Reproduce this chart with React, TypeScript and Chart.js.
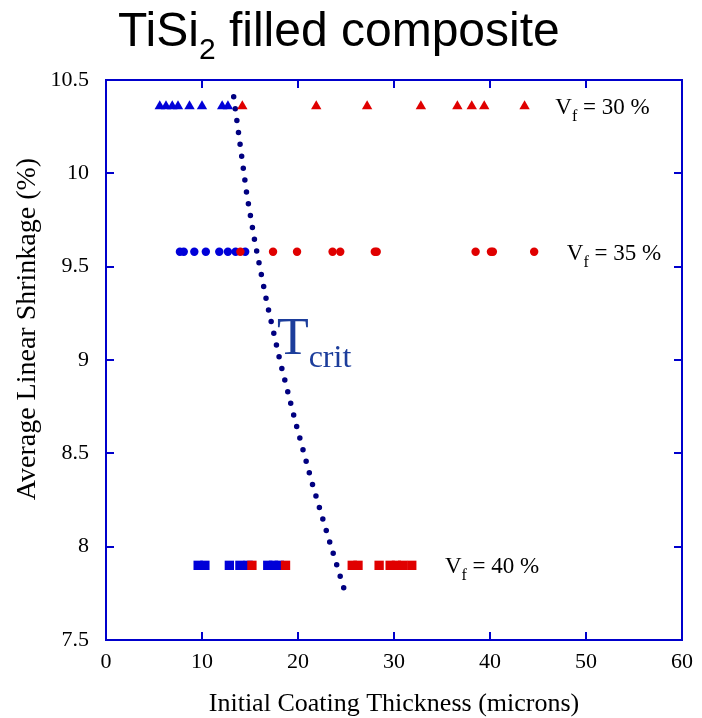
import React, { useEffect, useRef } from 'react';
import { Chart, registerables } from 'chart.js';

Chart.register(...registerables);

// ---- text ----
const titleMain = 'TiSi';
const titleSub = '2';
const titleRest = ' filled composite';
const xAxisTitle = 'Initial Coating Thickness (microns)';
const yAxisTitle = 'Average Linear Shrinkage (%)';
const critMain = 'T';
const critSub = 'crit';

// ---- ticks ----
const xTicks = [0, 10, 20, 30, 40, 50, 60];
const yTicks = [7.5, 8, 8.5, 9, 9.5, 10, 10.5];

// ---- data ----
const vf30Y = 10.36;
const vf35Y = 9.58;
const vf40Y = 7.9;
const vf30Blue = [5.6, 6.25, 6.9, 7.5, 8.7, 10.0, 12.1, 12.7];
const vf30Red = [14.2, 21.9, 27.2, 32.8, 36.6, 38.1, 39.4, 43.6];
const vf35Blue = [7.7, 8.1, 9.2, 10.4, 11.8, 12.7, 13.5, 14.5];
const vf35Red = [14.0, 17.4, 19.9, 23.6, 24.4, 28.0, 28.2, 38.5, 40.1, 40.3, 44.6];
const vf40Blue = [9.6, 10.3, 12.85, 13.95, 14.8, 16.85, 17.45, 18.05];
const vf40Red = [15.2, 18.7, 25.65, 26.25, 28.45, 29.6, 30.25, 30.9, 31.85];
const tcritX = [13.3, 14.67, 15.53, 16.77, 18.18, 19.76, 21.44, 23.27, 24.77];
const tcritY = [10.41, 9.886, 9.626, 9.305, 8.983, 8.663, 8.346, 8.031, 7.778];
const vfLabelText = ['30 %', '35 %', '40 %'];
const vfLabelRow = [vf30Y, vf35Y, vf40Y];

// ---- annotation placement (data units) ----
const vfLabelAt = [46.8, 48.0, 35.3];
const critLabelAt = { x: 17.8, y: 9.03 };

const SERIF = "'Liberation Serif', 'Times New Roman', serif";
const SANS = "'Liberation Sans', Arial, sans-serif";
const BLUE = '#0000d8';
const RED = '#e00000';
const NAVY = '#000080';
const FRAME = '#0000cc';
const CRIT = '#1c3d9b';

const row = (xs: number[], y: number) => xs.map((x) => ({ x, y }));

type Part = { text: string; font: string; dy: number };
function drawParts(ctx: CanvasRenderingContext2D, x: number, y: number, parts: Part[]) {
  let cx = x;
  for (const p of parts) {
    ctx.font = p.font;
    ctx.fillText(p.text, cx, y + p.dy);
    cx += ctx.measureText(p.text).width;
  }
}

const decor = {
  id: 'decor',
  beforeDatasetsDraw(chart: any) {
    const { ctx, chartArea: a, scales } = chart;
    ctx.save();
    ctx.strokeStyle = FRAME;
    ctx.lineWidth = 2;
    ctx.strokeRect(a.left, a.top, a.right - a.left, a.bottom - a.top);
    ctx.beginPath();
    const tl = 8;
    xTicks.slice(1, -1).forEach((v) => {
      const px = Math.round(scales.x.getPixelForValue(v));
      ctx.moveTo(px, a.bottom);
      ctx.lineTo(px, a.bottom - tl);
      ctx.moveTo(px, a.top);
      ctx.lineTo(px, a.top + tl);
    });
    yTicks.slice(1, -1).forEach((v) => {
      const py = Math.round(scales.y.getPixelForValue(v));
      ctx.moveTo(a.left, py);
      ctx.lineTo(a.left + tl, py);
      ctx.moveTo(a.right, py);
      ctx.lineTo(a.right - tl, py);
    });
    ctx.stroke();
    ctx.restore();
  },
  afterDraw(chart: any) {
    const { ctx, scales } = chart;
    ctx.save();
    ctx.textBaseline = 'alphabetic';
    ctx.textAlign = 'left';
    // chart title
    ctx.fillStyle = '#000';
    drawParts(ctx, 118, 46, [
      { text: titleMain, font: `48px ${SANS}`, dy: 0 },
      { text: titleSub, font: `30px ${SANS}`, dy: 13 },
      { text: titleRest, font: `48px ${SANS}`, dy: 0 },
    ]);
    // y axis title
    ctx.save();
    ctx.translate(28, 329);
    ctx.rotate(-Math.PI / 2);
    ctx.font = `28px ${SERIF}`;
    ctx.textAlign = 'center';
    ctx.textBaseline = 'middle';
    ctx.fillText(yAxisTitle, 0, 0);
    ctx.restore();
    // Vf labels
    vfLabelText.forEach((t, i) => {
      const px = scales.x.getPixelForValue(vfLabelAt[i]);
      const py = scales.y.getPixelForValue(vfLabelRow[i]) + 8;
      drawParts(ctx, px, py, [
        { text: 'V', font: `23px ${SERIF}`, dy: 0 },
        { text: 'f', font: `16px ${SERIF}`, dy: 7 },
        { text: ' = ' + t, font: `23px ${SERIF}`, dy: 0 },
      ]);
    });
    // T crit
    ctx.fillStyle = CRIT;
    drawParts(ctx, scales.x.getPixelForValue(critLabelAt.x), scales.y.getPixelForValue(critLabelAt.y), [
      { text: critMain, font: `52px ${SERIF}`, dy: 0 },
      { text: critSub, font: `32px ${SERIF}`, dy: 13 },
    ]);
    ctx.restore();
  },
};

export default function App() {
  const ref = useRef<HTMLCanvasElement>(null);
  useEffect(() => {
    document.body.style.margin = '0';
    document.body.style.overflow = 'hidden';
    const canvas = ref.current!;
    const mk = (xs: number[], y: number, style: string, color: string, r: number) => ({
      data: row(xs, y),
      pointStyle: style,
      pointRadius: r,
      pointBackgroundColor: color,
      pointBorderColor: color,
      pointBorderWidth: 0,
      showLine: false,
    });
    const chart = new Chart(canvas, {
      type: 'scatter',
      data: {
        datasets: [
          { label: 'Vf 30% (red)', ...mk(vf30Red, vf30Y, 'triangle', RED, 6) },
          { label: 'Vf 35% (red)', ...mk(vf35Red, vf35Y, 'circle', RED, 4.2) },
          { label: 'Vf 40% (red)', ...mk(vf40Red, vf40Y, 'rect', RED, 6.6) },
          { label: 'Vf 30% (blue)', ...mk(vf30Blue, vf30Y, 'triangle', BLUE, 6) },
          { label: 'Vf 35% (blue)', ...mk(vf35Blue, vf35Y, 'circle', BLUE, 4.2) },
          { label: 'Vf 40% (blue)', ...mk(vf40Blue, vf40Y, 'rect', BLUE, 6.6) },
          {
            label: 'Tcrit',
            data: tcritX.map((x, i) => ({ x, y: tcritY[i] })),
            showLine: true,
            pointRadius: 0,
            borderColor: NAVY,
            borderWidth: 5.5,
            borderDash: [0, 12],
            borderCapStyle: 'round',
            tension: 0,
          } as any,
        ],
      },
      options: {
        animation: false,
        responsive: false,
        devicePixelRatio: 1,
        layout: { padding: { top: 80, right: 14, left: 0, bottom: 0 } },
        plugins: { legend: { display: false }, tooltip: { enabled: false }, title: { display: false } },
        scales: {
          x: {
            type: 'linear',
            min: 0,
            max: 60,
            afterBuildTicks: (s: any) => {
              s.ticks = xTicks.map((v) => ({ value: v }));
            },
            afterFit: (s: any) => {
              s.height = 78;
            },
            grid: { display: false, drawTicks: false },
            border: { display: false },
            ticks: {
              color: '#000',
              padding: 9,
              font: { family: SERIF, size: 22 },
              maxRotation: 0,
              callback: (v: any) => String(v),
            },
            title: {
              display: true,
              text: xAxisTitle,
              color: '#000',
              font: { family: SERIF, size: 26, lineHeight: 1 },
              padding: { top: 0, bottom: 1 },
            },
          },
          y: {
            type: 'linear',
            min: 7.5,
            max: 10.5,
            afterBuildTicks: (s: any) => {
              s.ticks = yTicks.map((v) => ({ value: v }));
            },
            afterFit: (s: any) => {
              s.width = 106;
            },
            grid: { display: false, drawTicks: false },
            border: { display: false },
            ticks: { color: '#000', padding: 17, font: { family: SERIF, size: 22 }, callback: (v: any) => String(v) },
          },
        },
      } as any,
      plugins: [decor],
    });
    return () => chart.destroy();
  }, []);
  return <canvas ref={ref} width={702} height={718} style={{ display: 'block' }} />;
}
